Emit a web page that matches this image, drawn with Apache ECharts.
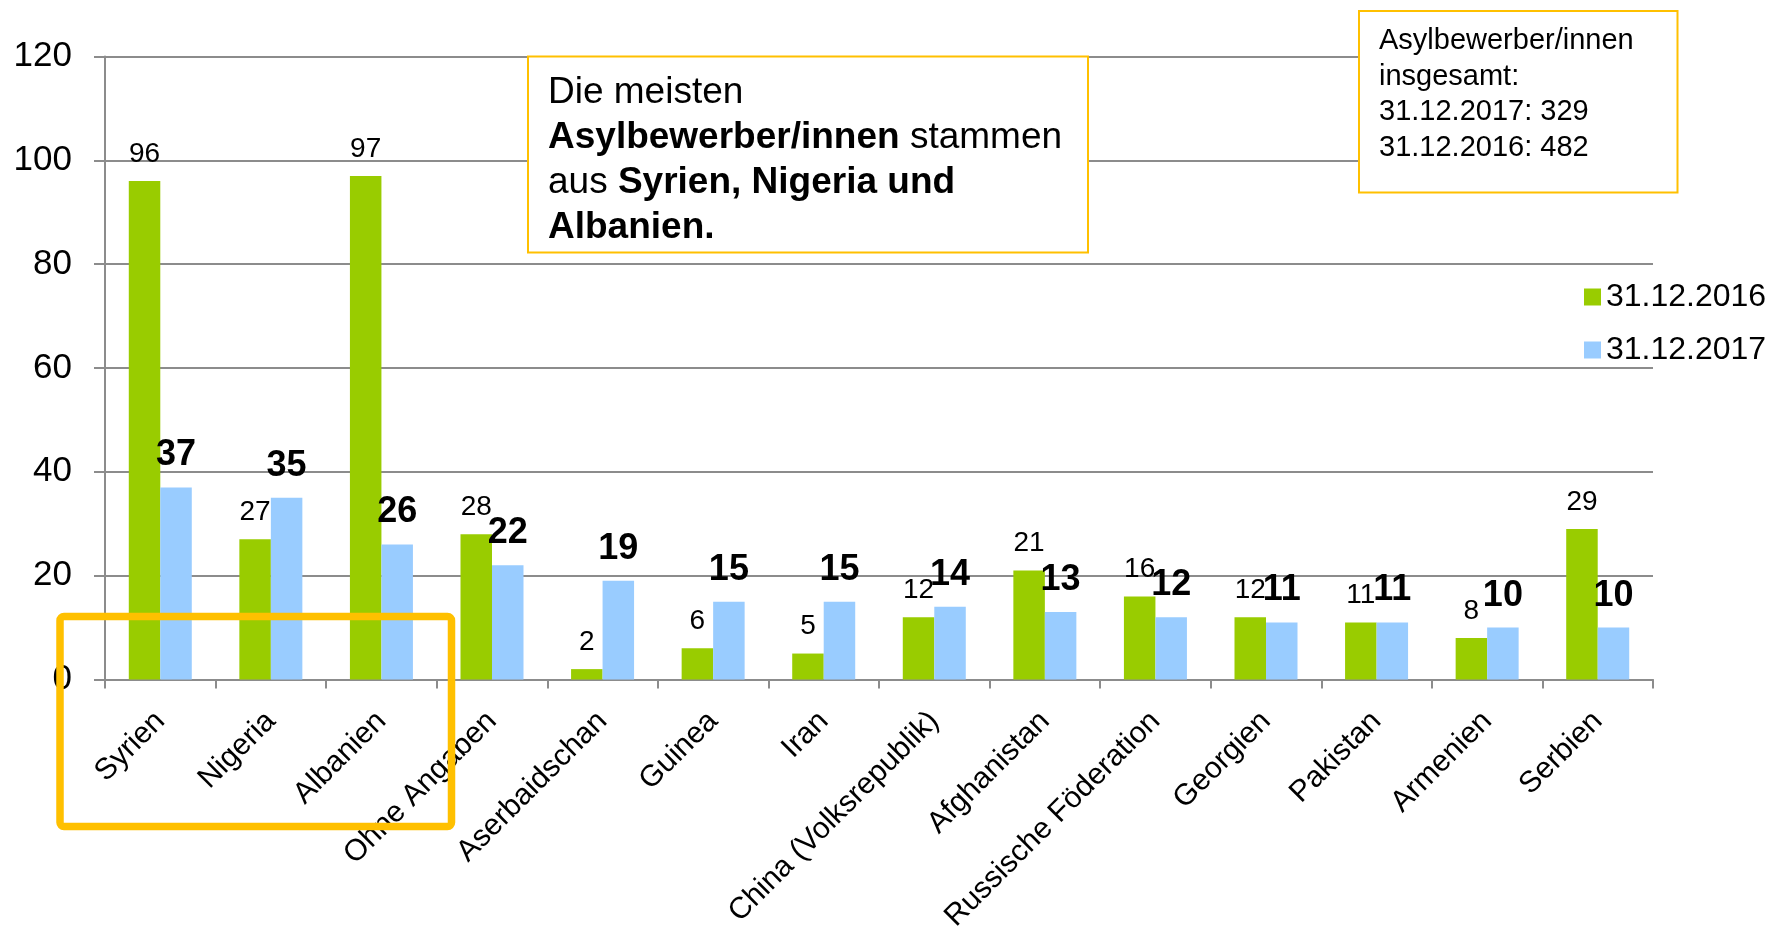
<!DOCTYPE html>
<html>
<head>
<meta charset="utf-8">
<style>
  html, body { margin: 0; padding: 0; background: #fff; }
  #chart-container { width: 1773px; height: 928px; }
</style>
<script src="https://cdn.jsdelivr.net/npm/echarts@6/dist/echarts.min.js"></script>
</head>
<body>
<div id="chart-container"></div>
<script>
var countries = ['Syrien', 'Nigeria', 'Albanien', 'Ohne Angaben', 'Aserbaidschan', 'Guinea', 'Iran',
    'China (Volksrepublik)', 'Afghanistan', 'Russische Föderation', 'Georgien', 'Pakistan', 'Armenien', 'Serbien'];
var values2016 = [96, 27, 97, 28, 2, 6, 5, 12, 21, 16, 12, 11, 8, 29];
var values2017 = [37, 35, 26, 22, 19, 15, 15, 14, 13, 12, 11, 11, 10, 10];
var seriesNames = ['31.12.2016', '31.12.2017'];
var totalsText = ['Asylbewerber/innen', 'insgesamt:', '31.12.2017: 329', '31.12.2016: 482'];

var font = '"Liberation Sans", Arial, sans-serif';
var orange = '#FFC000';

var dom = document.getElementById('chart-container');
var myChart = echarts.init(dom, null, {
    renderer: 'canvas',
    useDirtyRect: false
});

var option;

option = {
    animation: false,
    textStyle: { fontFamily: font },
    grid: {
        left: 105,
        right: 120,
        top: 56.5,
        bottom: 248.5,
        containLabel: false,
        outerBoundsMode: 'none'
    },
    legend: {
        data: seriesNames,
        orient: 'vertical',
        left: 1584,
        top: 281,
        padding: 0,
        icon: 'rect',
        itemWidth: 17,
        itemHeight: 17,
        itemGap: 21,
        textStyle: { fontSize: 32, lineHeight: 32, color: '#000', fontFamily: font }
    },
    xAxis: {
        type: 'category',
        data: countries,
        axisLine: { show: true, lineStyle: { color: '#8c8c8c', width: 2 } },
        axisTick: { show: true, length: 9, lineStyle: { color: '#8c8c8c', width: 2 } },
        axisLabel: {
            interval: 0,
            rotate: 45,
            margin: 37,
            fontSize: 30,
            color: '#000',
            fontFamily: font
        }
    },
    yAxis: {
        type: 'value',
        min: 0,
        max: 120,
        interval: 20,
        axisLine: { show: true, lineStyle: { color: '#8c8c8c', width: 2 } },
        axisTick: { show: true, length: 11, lineStyle: { color: '#8c8c8c', width: 2 } },
        axisLabel: { fontSize: 35, color: '#000', margin: 33, fontFamily: font },
        splitLine: { show: true, lineStyle: { color: '#8c8c8c', width: 2 } }
    },
    series: [
        {
            name: seriesNames[0],
            type: 'bar',
            barWidth: 31.5,
            barGap: '0%',
            itemStyle: { color: '#99CC00' },
            label: {
                show: true,
                position: 'top',
                distance: 13,
                fontSize: 28,
                color: '#000',
                fontFamily: font
            },
            data: values2016
        },
        {
            name: seriesNames[1],
            type: 'bar',
            barWidth: 31.5,
            barGap: '0%',
            itemStyle: { color: '#99CCFF' },
            label: {
                show: true,
                position: 'top',
                distance: 14,
                fontSize: 36,
                fontWeight: 'bold',
                color: '#000',
                fontFamily: font
            },
            data: values2017
        }
    ],
    graphic: [
        {
            // highlight box round the first three countries
            type: 'rect',
            z: 100,
            shape: { x: 60, y: 616.5, width: 391.5, height: 210, r: 4 },
            style: { fill: 'none', stroke: orange, lineWidth: 7.5 }
        },
        {
            type: 'rect',
            z: 100,
            shape: { x: 528, y: 56.5, width: 560, height: 196 },
            style: { fill: '#fff', stroke: orange, lineWidth: 2 }
        },
        {
            type: 'text',
            z: 101,
            x: 548,
            y: 70,
            style: {
                text: 'Die meisten\n{b|Asylbewerber/innen} stammen\naus {b|Syrien, Nigeria und}\n{b|Albanien.}',
                fontSize: 37,
                lineHeight: 45,
                fontFamily: font,
                fill: '#000',
                align: 'left',
                verticalAlign: 'top',
                rich: {
                    b: { fontSize: 37, lineHeight: 45, fontWeight: 'bold', fontFamily: font, fill: '#000' }
                }
            }
        },
        {
            type: 'rect',
            z: 100,
            shape: { x: 1359, y: 11, width: 318.5, height: 181.5 },
            style: { fill: '#fff', stroke: orange, lineWidth: 2 }
        },
        {
            type: 'text',
            z: 101,
            x: 1379,
            y: 23.5,
            style: {
                text: totalsText.join('\n'),
                fontSize: 29,
                lineHeight: 35.5,
                fontFamily: font,
                fill: '#000',
                align: 'left',
                verticalAlign: 'top'
            }
        }
    ]
};

if (option && typeof option === 'object') {
    myChart.setOption(option);
}

window.addEventListener('resize', myChart.resize);
</script>
</body>
</html>
